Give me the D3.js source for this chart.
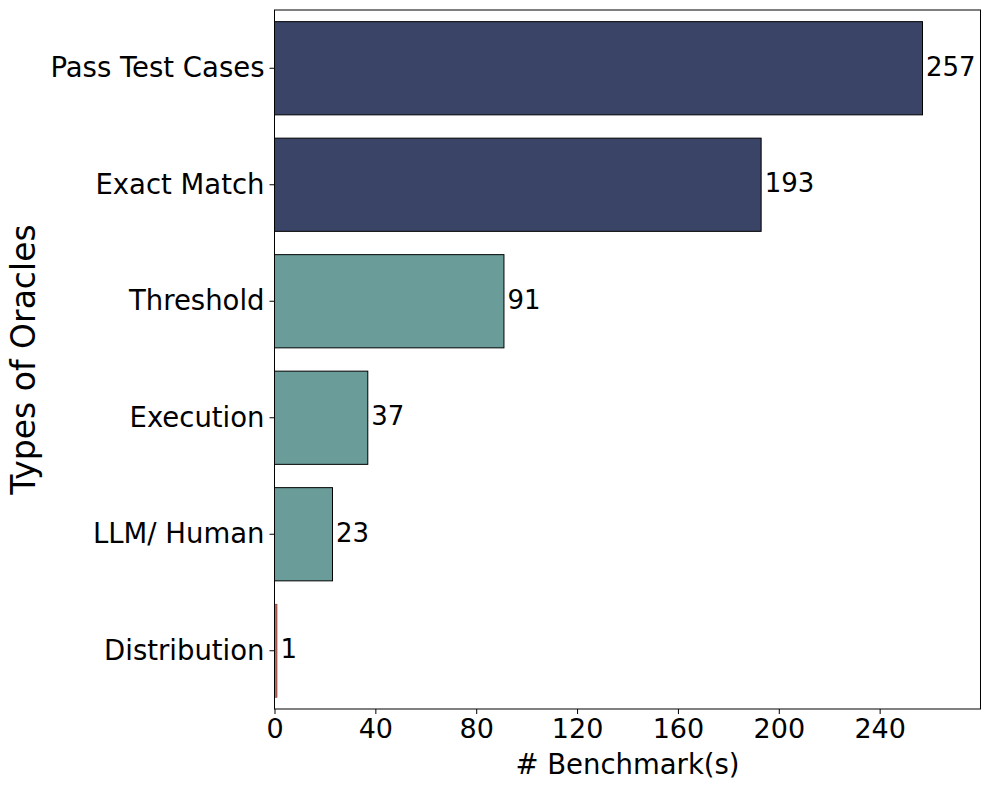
<!DOCTYPE html>
<html><head><meta charset="utf-8">
<script src="https://cdn.jsdelivr.net/npm/d3@7"></script>
<style>body{margin:0;background:#fff;} text{font-family:"DejaVu Sans",sans-serif;}</style>
</head><body>
<svg id="c" width="990" height="790"></svg>
<script>
const categories = ["Pass Test Cases","Exact Match","Threshold","Execution","LLM/ Human","Distribution"];
const values = [257,193,91,37,23,1];
const groups = ["dark","dark","teal","teal","teal","red"];
const xTicks = [0,40,80,120,160,200,240];
const colors = {dark:"#3a4466", teal:"#6a9d9a", red:"#c0665a"};

const svg = d3.select("#c");
const L=274.5, R=980.5, T=10, B=709;
const x = d3.scaleLinear().domain([0,280]).range([L,R]);
const y = d3.scaleBand().domain(categories).range([T,B]).paddingInner(0.2).paddingOuter(0.1);

svg.selectAll("rect.bar").data(categories).enter().append("rect")
  .attr("class","bar")
  .attr("x",x(0)).attr("y",d=>y(d))
  .attr("width",(d,i)=>x(values[i])-x(0))
  .attr("height",y.bandwidth())
  .attr("fill",(d,i)=>colors[groups[i]])
  .attr("stroke",(d,i)=>values[i]<3?"#5a2a25":"#000")
  .attr("stroke-width",(d,i)=>values[i]<3?0.5:1);

svg.selectAll("text.val").data(categories).enter().append("text")
  .attr("class","val")
  .attr("x",(d,i)=>x(values[i])+3.5)
  .attr("y",d=>y(d)+y.bandwidth()/2-1.5)
  .attr("dy","0.35em")
  .style("font-size","26px")
  .text((d,i)=>values[i]);

// frame
svg.append("rect").attr("x",L).attr("y",T).attr("width",R-L).attr("height",B-T)
  .attr("fill","none").attr("stroke","#000").attr("stroke-width",1);

const xa = svg.append("g").attr("transform",`translate(0,${B})`)
  .call(d3.axisBottom(x).tickValues(xTicks).tickSize(5).tickPadding(5));
xa.select(".domain").remove();
xa.selectAll("text").style("font-size","27px").style("font-family","DejaVu Sans").attr("fill","#000");

const ya = svg.append("g").attr("transform",`translate(${L},0)`)
  .call(d3.axisLeft(y).tickSize(5).tickPadding(5));
ya.select(".domain").remove();
ya.selectAll("text").style("font-size","27.5px").style("font-family","DejaVu Sans").attr("fill","#000");

svg.append("text").attr("x",(L+R)/2).attr("y",774).attr("text-anchor","middle")
  .style("font-size","27.5px").text("# Benchmark(s)");
svg.append("text").attr("transform",`translate(35,${(T+B)/2}) rotate(-90)`)
  .attr("text-anchor","middle").style("font-size","33px").text("Types of Oracles");
</script>
</body></html>
